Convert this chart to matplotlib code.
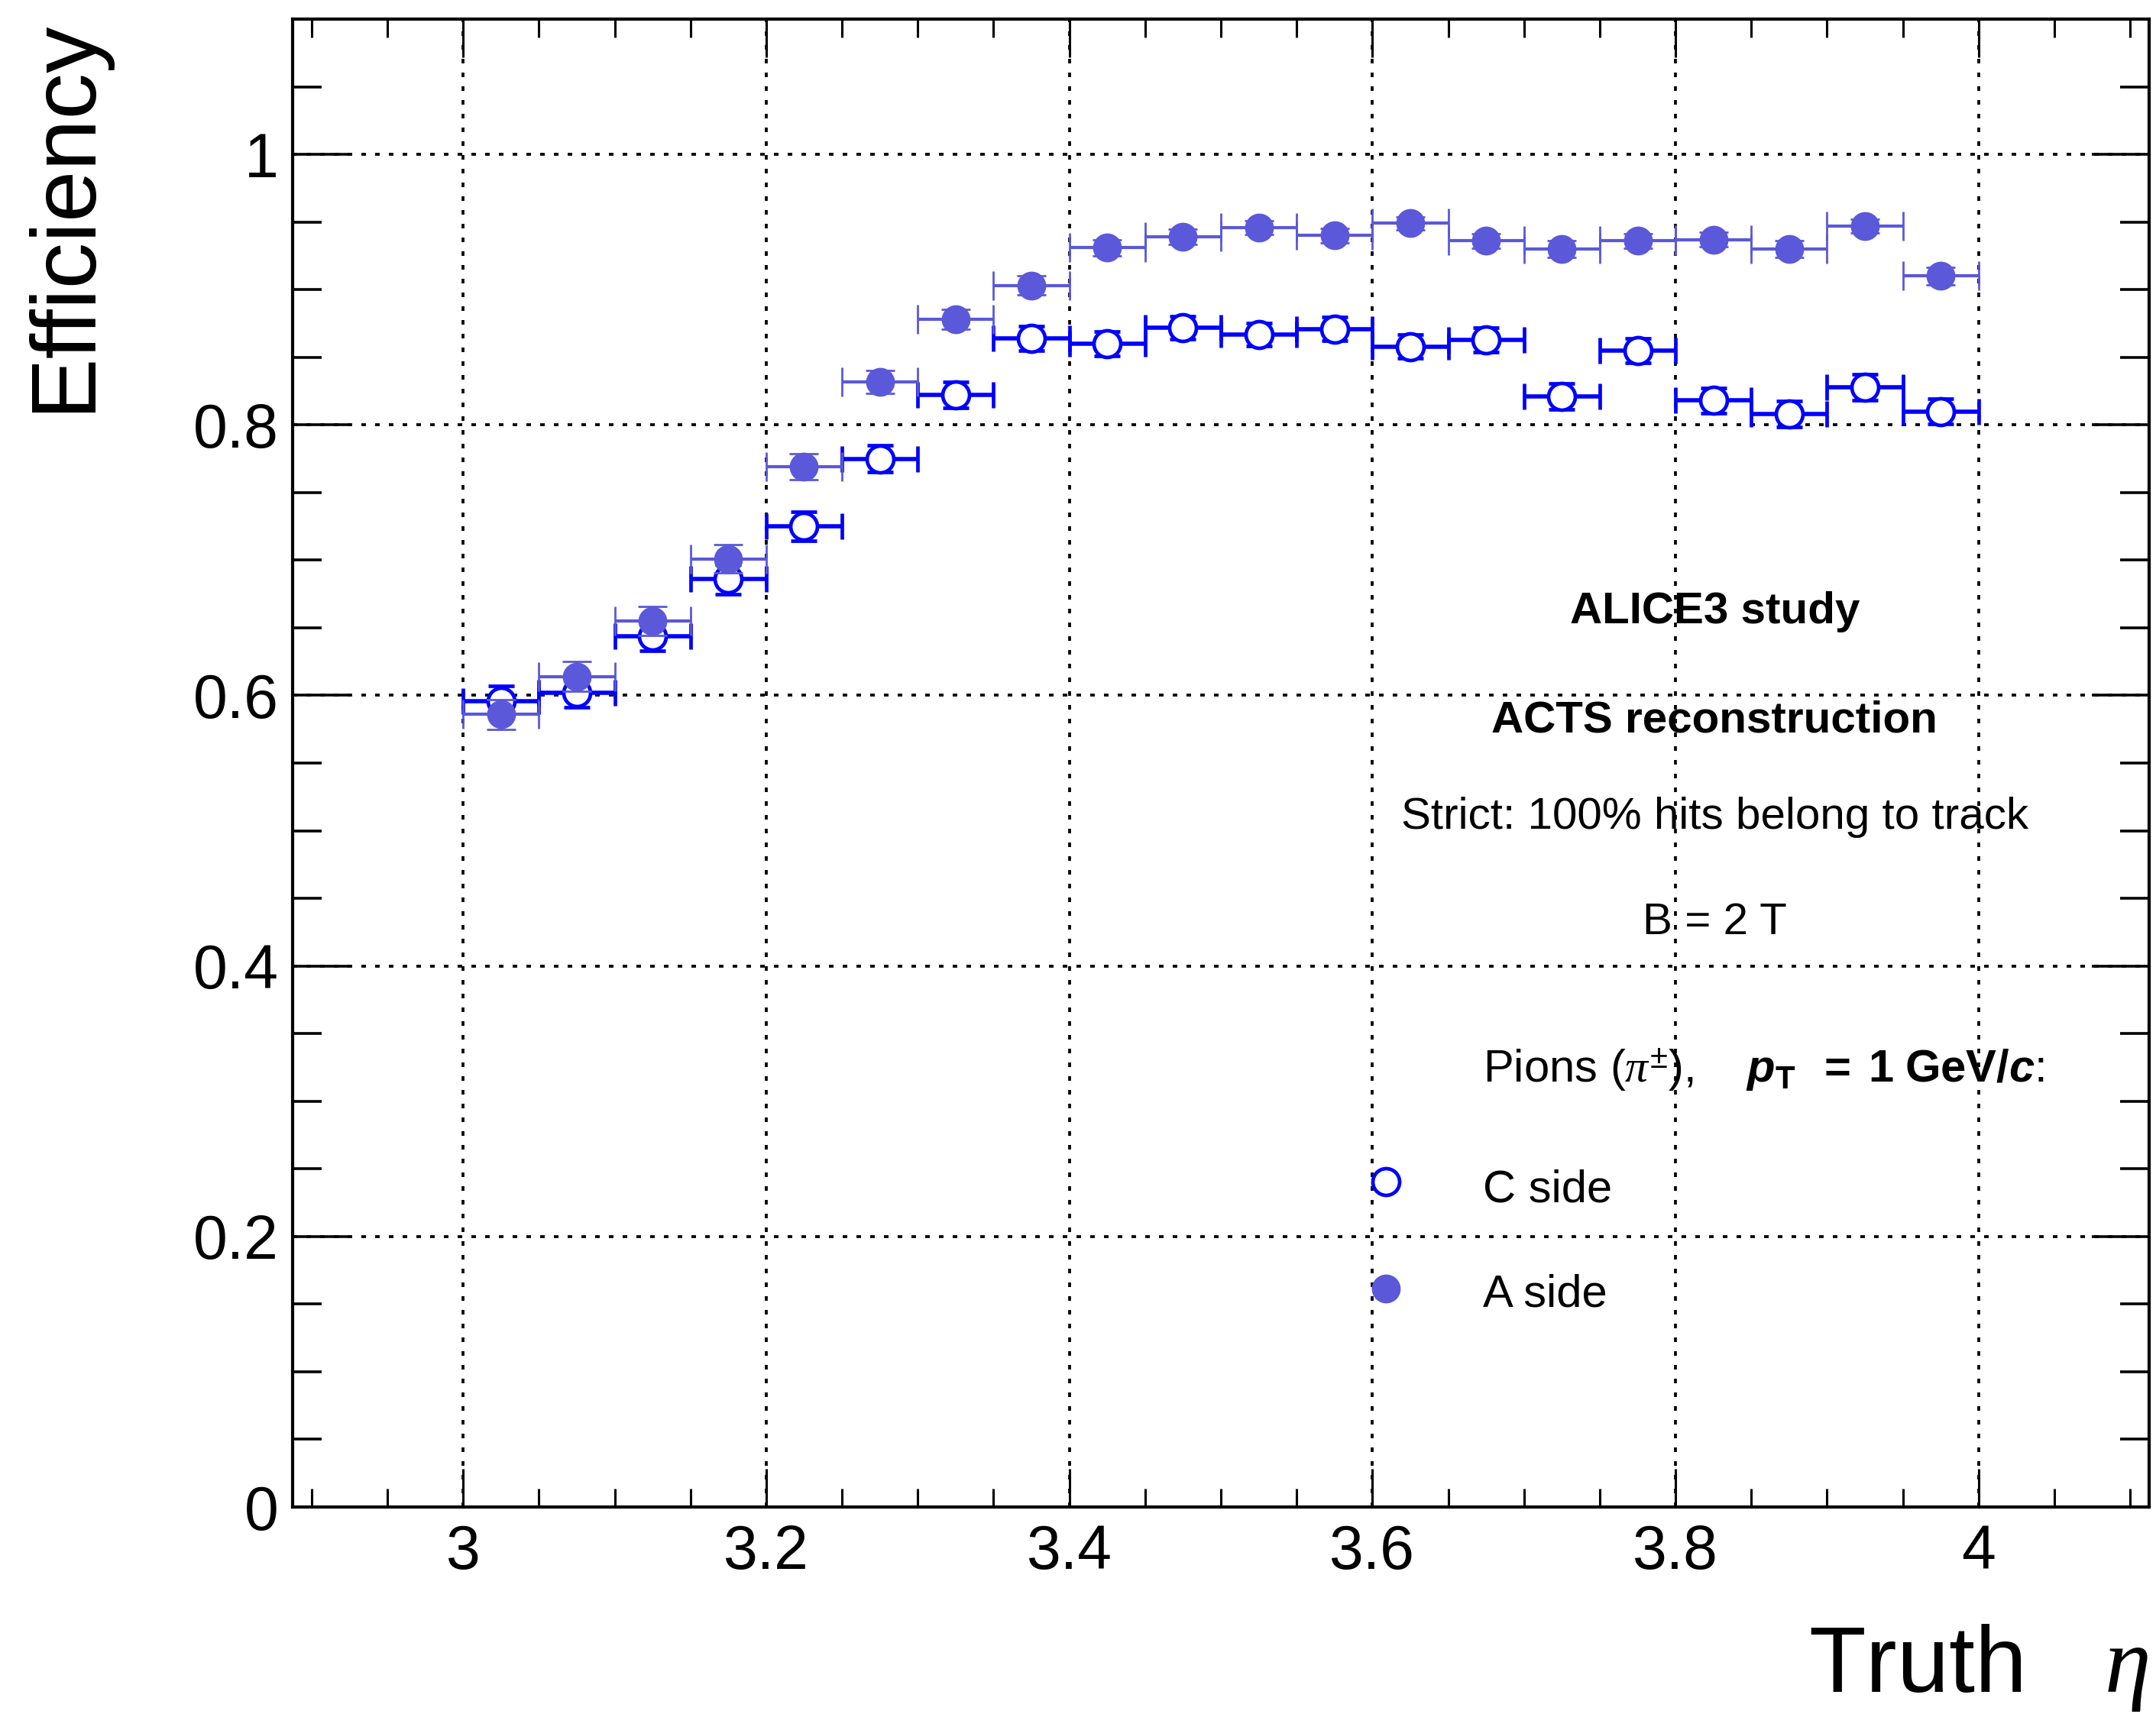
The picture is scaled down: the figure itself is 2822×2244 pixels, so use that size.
import matplotlib
matplotlib.use("Agg")
import matplotlib.pyplot as plt
from matplotlib.ticker import MultipleLocator, FuncFormatter

plt.rcParams['font.family'] = ['Liberation Sans', 'DejaVu Sans']
plt.rcParams['mathtext.fontset'] = 'custom'
plt.rcParams['mathtext.rm'] = 'Liberation Sans'
plt.rcParams['mathtext.it'] = 'Liberation Serif:italic'
plt.rcParams['mathtext.bf'] = 'Liberation Sans:bold'
plt.rcParams['mathtext.bfit'] = 'Liberation Sans:italic:bold'

# ---------------- data ----------------
eta_centers = [3.025, 3.075, 3.125, 3.175, 3.225, 3.275, 3.325, 3.375, 3.425, 3.475,
               3.525, 3.575, 3.625, 3.675, 3.725, 3.775, 3.825, 3.875, 3.925, 3.975]
eta_halfwidth = [0.025] * 20

eff_C = [0.596, 0.602, 0.644, 0.686, 0.725, 0.775, 0.822, 0.864, 0.860, 0.872,
         0.867, 0.871, 0.858, 0.863, 0.821, 0.855, 0.818, 0.808, 0.828, 0.810]
err_C = [0.011, 0.011, 0.011, 0.011, 0.0105, 0.010, 0.0095, 0.009, 0.009, 0.0085,
         0.0085, 0.0085, 0.009, 0.009, 0.0095, 0.009, 0.0095, 0.0095, 0.0095, 0.0095]

eff_A = [0.586, 0.614, 0.655, 0.701, 0.769, 0.832, 0.878, 0.903, 0.931, 0.939,
         0.946, 0.940, 0.949, 0.936, 0.930, 0.936, 0.937, 0.930, 0.947, 0.910]
err_A = [0.011, 0.011, 0.0105, 0.0105, 0.0095, 0.0085, 0.0075, 0.007, 0.006, 0.0055,
         0.005, 0.0055, 0.005, 0.0055, 0.006, 0.0055, 0.0055, 0.006, 0.005, 0.0065]

x_ticklabels = ["3", "3.2", "3.4", "3.6", "3.8", "4"]
y_ticklabels = ["0", "0.2", "0.4", "0.6", "0.8", "1"]

col_C = "#0000ff"
col_A = "#5b58d9"

# ---------------- figure ----------------
W, H, DPI = 2822, 2244, 200
fig = plt.figure(figsize=(W / DPI, H / DPI), dpi=DPI)
L, R, T, B = 383, 2813, 25, 1973
ax = fig.add_axes([L / W, 1 - B / H, (R - L) / W, (B - T) / H])

ax.set_xlim(2.8875, 4.1125)
ax.set_ylim(0, 1.1)

ax.xaxis.set_major_locator(MultipleLocator(0.2))
ax.xaxis.set_minor_locator(MultipleLocator(0.05))
ax.yaxis.set_major_locator(MultipleLocator(0.2))
ax.yaxis.set_minor_locator(MultipleLocator(0.05))
ax.xaxis.set_major_formatter(FuncFormatter(lambda v, p: "%g" % round(v, 3)))
ax.yaxis.set_major_formatter(FuncFormatter(lambda v, p: "%g" % round(v, 3)))

for s in ax.spines.values():
    s.set_linewidth(1.5)

ax.tick_params(axis='x', which='major', direction='in', length=18, width=1.1,
               top=True, bottom=True, labelsize=29, pad=8)
ax.tick_params(axis='x', which='minor', direction='in', length=8.6, width=1.1,
               top=True, bottom=True)
ax.tick_params(axis='y', which='major', direction='in', length=27, width=1.3,
               left=True, right=True, labelsize=29, pad=6.5)
ax.tick_params(axis='y', which='minor', direction='in', length=13.7, width=1.3,
               left=True, right=True)

ax.grid(True, which='major', color='black', linewidth=1.35, linestyle=(0, (1.6, 3.2)))
ax.set_axisbelow(True)

ms = 12.6
ax.errorbar(eta_centers, eff_C, xerr=eta_halfwidth, yerr=err_C, fmt='o',
            ms=ms, mfc='white', mec=col_C, mew=1.7, ecolor=col_C,
            elinewidth=2.0, capsize=6.0, capthick=2.0, zorder=3)
ax.errorbar(eta_centers, eff_A, xerr=eta_halfwidth, yerr=err_A, fmt='o',
            ms=ms, mfc=col_A, mec=col_A, mew=1.0, ecolor=col_A,
            elinewidth=1.5, capsize=7.0, capthick=1.5, zorder=4)

# axis titles
fig.text(85 / W, 1 - 25 / H, "Efficiency", rotation=90, ha='center', va='top',
         fontsize=43.5)
fig.text(2812 / W, 1 - 2215 / H, r"Truth   $\eta$", ha='right', va='baseline',
         fontsize=44)

# annotations
cx = 0.766
ax.text(cx, 0.594, "ALICE3 study", transform=ax.transAxes, ha='center',
        va='baseline', fontsize=21, fontweight='bold')
ax.text(cx, 0.521, "ACTS reconstruction", transform=ax.transAxes, ha='center',
        va='baseline', fontsize=21, fontweight='bold')
ax.text(cx, 0.456, "Strict: 100% hits belong to track", transform=ax.transAxes,
        ha='center', va='baseline', fontsize=21)
ax.text(cx, 0.385, "B = 2 T", transform=ax.transAxes, ha='center',
        va='baseline', fontsize=21)
ax.text(0.641, 0.2854,
        r"Pions ($\pi^{\pm}$),    $\mathbfit{p}_{\mathbf{T}}$$\mathbf{\ \ =\ 1\ GeV/}$$\mathbfit{c}$:",
        transform=ax.transAxes, ha='left', va='baseline', fontsize=21.5)

# legend
ax.plot([0.589], [0.2187], 'o', transform=ax.transAxes, ms=ms, mfc='white',
        mec=col_C, mew=1.7, clip_on=False)
ax.plot([0.589], [0.1468], 'o', transform=ax.transAxes, ms=ms, mfc=col_A,
        mec=col_A, mew=1.0, clip_on=False)
ax.text(0.641, 0.205, "C side", transform=ax.transAxes, ha='left',
        va='baseline', fontsize=21.5)
ax.text(0.641, 0.1348, "A side", transform=ax.transAxes, ha='left',
        va='baseline', fontsize=21.5)

fig.savefig("out.png", dpi=DPI)
